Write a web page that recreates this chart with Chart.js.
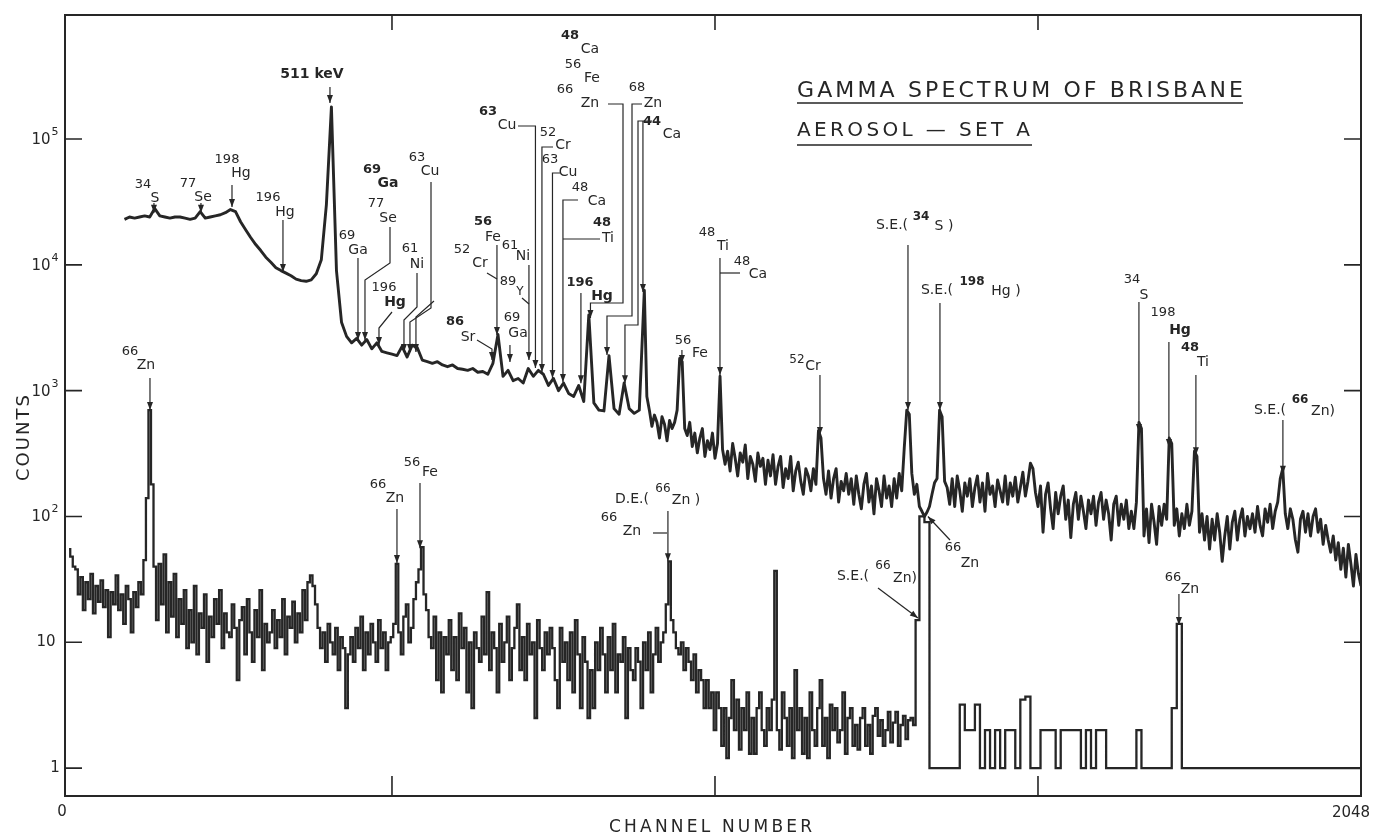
<!DOCTYPE html>
<html>
<head>
<meta charset="utf-8">
<script src="https://cdn.jsdelivr.net/npm/chart.js@4.4.6/dist/chart.umd.min.js"></script>
<style>
  html, body { margin: 0; background: #fff; }
  canvas { display: block; }
</style>
</head>
<body>
<canvas id="espectro" width="1374" height="835"></canvas>
<script>
// espectro superior: cada 8 canales del 88 al 912, luego cada 4
const pasoSupGrueso = 8;
const inicioSupGrueso = 88;
const cuentasSupGruesa = [
    23000, 24000, 23500, 24000, 24500, 24000, 28000, 24500,
    24000, 23500, 24000, 24000, 23500, 23000, 23500, 26500,
    23500, 24000, 24500, 25000, 26000, 27500, 26500, 22000,
    19000, 16500, 14500, 13000, 11500, 10500, 9500, 9000,
    8600, 8200, 7700, 7500, 7400, 7600, 8500, 11000,
    30000, 180000, 9000, 3500, 2700, 2400, 2600, 2300,
    2550, 2150, 2400, 2050, 2000, 1950, 1900, 2250,
    1850, 2300, 2200, 1750, 1700, 1650, 1700, 1600,
    1550, 1600, 1500, 1480, 1450, 1500, 1400, 1420,
    1350, 1650, 2800, 1300, 1450, 1200, 1250, 1150,
    1500, 1300, 1450, 1350, 1100, 1250, 1000, 1150,
    950, 900, 1100, 820, 4000, 800, 700, 690,
    1900, 720, 650, 1150, 720, 660, 700, 6300
];
const pasoSupFino = 4;
const inicioSupFino = 916;
const cuentasSupFina = [
    900, 700, 520, 640, 560, 420, 620, 540, 400, 580, 500, 560, 700, 1800, 1700, 500,
    440, 560, 360, 460, 320, 420, 500, 300, 400, 340, 460, 290, 380, 1300, 340, 260,
    330, 230, 380, 290, 210, 320, 270, 370, 200, 300, 260, 190, 320, 250, 290, 180,
    280, 210, 310, 180, 250, 300, 170, 240, 200, 300, 160, 230, 270, 190, 150, 240,
    210, 160, 240, 180, 480, 420, 200, 150, 230, 140, 200, 240, 130, 190, 160, 220,
    150, 200, 125, 210, 150, 115, 180, 220, 130, 175, 105, 200, 160, 120, 210, 140,
    175, 120, 200, 140, 220, 160, 350, 700, 650, 220, 150, 180, 120, 110, 100, 108,
    120, 150, 185, 200, 700, 620, 190, 170, 125, 200, 120, 210, 160, 110, 185, 145,
    200, 120, 170, 210, 130, 185, 110, 220, 150, 175, 120, 195, 160, 130, 210, 125,
    185, 145, 205, 130, 170, 225, 145, 190, 265, 240, 155, 120, 175, 75, 150, 185,
    115, 80, 155, 105, 145, 175, 95, 135, 68, 125, 155, 95, 145, 110, 80, 135,
    105, 145, 85, 130, 155, 95, 135, 105, 65, 125, 145, 85, 125, 95, 135, 80,
    110, 80, 130, 560, 500, 70, 115, 62, 125, 90, 60, 120, 85, 125, 95, 420,
    380, 85, 115, 70, 105, 80, 125, 85, 110, 330, 300, 75, 105, 65, 100, 55,
    95, 65, 105, 75, 44, 70, 100, 55, 90, 110, 65, 95, 115, 70, 100, 80,
    105, 75, 120, 85, 70, 115, 90, 125, 80, 110, 130, 200, 240, 105, 80, 115,
    95, 65, 52, 95, 110, 75, 105, 70, 100, 115, 75, 95, 60, 85, 65, 52,
    70, 45, 62, 38, 56, 33, 60, 42, 28, 50, 35, 28
];

// espectro inferior: cada 4 canales hasta el 1340, luego cada 8
const pasoInfFino = 4;
const inicioInfFino = 0;
const cuentasInfFina = [
    55, 48, 40, 38, 24, 33, 18, 30, 22, 35, 17, 28, 21, 31, 19, 26,
    11, 25, 20, 34, 18, 24, 14, 28, 22, 12, 25, 19, 30, 24, 45, 140,
    700, 180, 40, 15, 42, 20, 50, 12, 30, 16, 35, 11, 22, 14, 26, 9,
    18, 10, 28, 8, 17, 13, 24, 7, 16, 11, 22, 14, 26, 9, 17, 12,
    11, 20, 13, 5, 15, 19, 8, 22, 12, 7, 18, 11, 26, 6, 14, 10,
    12, 18, 9, 15, 11, 22, 8, 16, 13, 21, 10, 17, 12, 26, 15, 30,
    34, 28, 20, 13, 9, 12, 7, 14, 10, 8, 13, 6, 11, 9, 3, 8,
    11, 7, 13, 9, 16, 6, 12, 8, 14, 10, 7, 15, 9, 12, 6, 10,
    11, 14, 42, 12, 8, 16, 20, 10, 13, 22, 30, 38, 57, 24, 18, 11,
    9, 16, 5, 12, 4, 11, 8, 15, 6, 11, 5, 17, 9, 13, 4, 10,
    3, 12, 9, 7, 16, 8, 25, 6, 12, 9, 4, 14, 7, 10, 16, 5,
    9, 13, 20, 6, 11, 5, 14, 8, 10, 2.5, 15, 9, 6, 12, 8, 13,
    9, 5, 3, 13, 7, 10, 5, 12, 4, 15, 8, 3, 11, 7, 2.5, 6,
    3, 10, 6, 13, 8, 4, 11, 6, 14, 4, 8, 7, 11, 2.5, 9, 6,
    5, 9, 7, 3, 10, 6, 12, 4, 8, 13, 7, 10, 12, 20, 44, 15,
    12, 9, 8, 10, 6, 9, 7, 5, 8, 4, 6, 5, 3, 5, 3, 4,
    2, 4, 3, 1.5, 3, 1.2, 2.5, 5, 2, 3.5, 1.4, 3, 2, 4, 1.3, 2.5,
    1.3, 3, 4, 2, 1.5, 3, 2, 3.5, 37, 2, 1.4, 4, 2.5, 1.5, 3, 1.2,
    6, 2, 3, 1.3, 2.5, 1.2, 4, 2, 1.5, 3, 5, 1.5, 2.5, 1.2, 3.2, 2,
    3, 1.6, 2, 4, 1.3, 2.5, 3, 1.5, 2.2, 1.4, 2.5, 3, 1.5, 2.2, 1.3, 2.6,
    3, 1.8, 2.4, 1.5, 2, 2.8, 1.6, 2.3, 2.8, 1.5, 2.2, 2.6, 1.7, 2.4, 2.5, 2.2
];
const pasoInfCola = 8;
const inicioInfCola = 1344;
const cuentasInfCola = [
    15, 100, 90, 1, 1, 1, 1, 1,
    1, 3.2, 2, 2, 3.2, 1, 2, 1,
    2, 1, 2, 2, 1, 3.5, 3.7, 1,
    1, 2, 2, 2, 1, 2, 2, 2,
    2, 1, 2, 1, 2, 2, 1, 1,
    1, 1, 1, 1, 2, 1, 1, 1,
    1, 1, 1, 3, 14, 1, 1, 1,
    1, 1, 1, 1, 1, 1, 1, 1,
    1, 1, 1, 1, 1, 1, 1, 1,
    1, 1, 1, 1, 1, 1, 1, 1,
    1, 1, 1, 1, 1, 1, 1, 1,
    1
];

const ticksY = [1, 10, 100, 1000, 10000, 100000];
const ticksX = [0, 512, 1024, 1536, 2048];

// flechas: [canal, cuentas en la punta, recorrido en px (x null = misma x que la punta)]
const flechas = [
    [134.7, 26000, [[null, 203]]],
    [209.2, 26000, [[null, 203]]],
    [258.4, 28800, [[null, 185]]],
    [339.2, 8770, [[null, 220]]],
    [413.7, 193000, [[null, 87]]],
    [458.1, 2525, [[null, 258]]],
    [469.2, 2525, [[390, 227], [390, 263], [null, 280]]],
    [491.4, 2305, [[392, 312], [null, 328]]],
    [531, 2027, [[417, 273], [417, 307], [null, 320]]],
    [540.5, 2027, [[431, 182], [431, 308], [null, 322]]],
    [550, 2027, [[434, 301], [null, 317]]],
    [670.5, 1751, [[477, 340], [null, 349]]],
    [678.4, 2767, [[null, 245]]],
    [699, 1688, [[null, 345]]],
    [729.1, 1751, [[null, 265]]],
    [739.4, 1512, [[518, 126], [null, 126]]],
    [749.7, 1405, [[553, 147], [null, 147]]],
    [766.4, 1260, [[560, 173], [null, 173]]],
    [783, 1171, [[578, 200], [null, 200]]],
    [811.5, 1143, [[null, 293]]],
    [826.6, 3777, [[608, 104], [623, 104], [623, 303], [null, 303]]],
    [852.8, 1919, [[642, 104], [632, 104], [632, 316], [null, 316]]],
    [881.3, 1143, [[652, 121], [638, 121], [638, 325], [null, 325]]],
    [909.8, 6078, [[null, 121]]],
    [971.6, 1657, [[null, 350]]],
    [1031.9, 1330, [[null, 258]]],
    [1190.4, 444, [[null, 375]]],
    [1329.9, 701, [[null, 245]]],
    [1380.6, 701, [[null, 303]]],
    [1696, 469, [[null, 302]]],
    [1743.5, 356, [[null, 342]]],
    [1786.3, 306, [[null, 375]]],
    [1924.2, 219, [[null, 420]]],
    [128.4, 701, [[null, 378]]],
    [519.9, 42.6, [[null, 509]]],
    [556.4, 56, [[null, 483]]],
    [949.4, 44, [[null, 511]]],
    [1345.7, 15.6, [[878, 588]]],
    [1361.5, 100, [[950, 540]]],
    [1759.4, 13.7, [[null, 594]]]
];

const guias = [
    [[487, 273], [497, 279]],
    [[522, 298], [529, 304]],
    [[600, 239], [563, 239]],
    [[740, 273], [720, 273]],
    [[653, 533], [667, 533]]
];

// rótulos: [texto, x, y, tamaño, negrita]
const rotulos = [
    ['34', 143, 185, 13], ['S', 155, 198, 14], ['77', 188, 184, 13], ['Se', 203, 197, 14],
    ['198', 227, 160, 13], ['Hg', 241, 173, 14], ['196', 268, 198, 13], ['Hg', 285, 212, 14],
    ['511 keV', 312, 74, 14, 1], ['69', 347, 236, 13], ['Ga', 358, 250, 14],
    ['69', 372, 170, 13, 1], ['Ga', 388, 183, 14, 1], ['77', 376, 204, 13], ['Se', 388, 218, 14],
    ['196', 384, 288, 13], ['Hg', 395, 302, 14, 1], ['61', 410, 249, 13], ['Ni', 417, 264, 14],
    ['63', 417, 158, 13], ['Cu', 430, 171, 14],
    ['86', 455, 322, 13, 1], ['Sr', 468, 337, 14], ['52', 462, 250, 13], ['Cr', 480, 263, 14],
    ['56', 483, 222, 13, 1], ['Fe', 493, 237, 14], ['61', 510, 246, 13], ['Ni', 523, 256, 14],
    ['89', 508, 282, 13], ['Y', 520, 292, 12], ['69', 512, 318, 13], ['Ga', 518, 333, 14],
    ['63', 488, 112, 13, 1], ['Cu', 507, 125, 14], ['52', 548, 133, 13], ['Cr', 563, 145, 14],
    ['63', 550, 160, 13], ['Cu', 568, 172, 14], ['48', 580, 188, 13], ['Ca', 597, 201, 14],
    ['48', 602, 223, 13, 1], ['Ti', 608, 238, 14], ['196', 580, 283, 13, 1], ['Hg', 602, 296, 14, 1],
    ['48', 570, 36, 13, 1], ['Ca', 590, 49, 14], ['56', 573, 65, 13], ['Fe', 592, 78, 14],
    ['66', 565, 90, 13], ['Zn', 590, 103, 14], ['68', 637, 88, 13], ['Zn', 653, 103, 14],
    ['44', 652, 122, 13, 1], ['Ca', 672, 134, 14], ['48', 707, 233, 13], ['Ti', 723, 246, 14],
    ['48', 742, 262, 13], ['Ca', 758, 274, 14], ['56', 683, 341, 13], ['Fe', 700, 353, 14],
    ['52', 797, 360, 12], ['Cr', 813, 366, 14],
    ['S.E.(', 892, 225, 14], ['34', 921, 217, 12, 1], ['S )', 944, 226, 14],
    ['S.E.(', 937, 290, 14], ['198', 972, 282, 12, 1], ['Hg )', 1006, 291, 14],
    ['34', 1132, 280, 13], ['S', 1144, 295, 14], ['198', 1163, 313, 13], ['Hg', 1180, 330, 14, 1],
    ['48', 1190, 348, 13, 1], ['Ti', 1203, 362, 14],
    ['S.E.(', 1270, 410, 14], ['66', 1300, 400, 12, 1], ['Zn)', 1323, 411, 14],
    ['66', 130, 352, 13], ['Zn', 146, 365, 14], ['66', 378, 485, 13], ['Zn', 395, 498, 14],
    ['56', 412, 463, 13], ['Fe', 430, 472, 14],
    ['D.E.(', 632, 499, 14], ['66', 663, 489, 12], ['Zn )', 686, 500, 14],
    ['66', 609, 518, 13], ['Zn', 632, 531, 14],
    ['S.E.(', 853, 576, 14], ['66', 883, 566, 12], ['Zn)', 905, 578, 14],
    ['66', 953, 548, 13], ['Zn', 970, 563, 14], ['66', 1173, 578, 13], ['Zn', 1190, 589, 14]
];

const tinta = '#262626';
const fuente = '"DejaVu Sans", "Liberation Sans", sans-serif';

function texto(ctx, t, x, y, tam, negrita) {
    ctx.font = (negrita ? 'bold ' : '') + tam + 'px ' + fuente;
    ctx.fillText(t, x, y);
}

function espaciado(ctx, t, x, y, ancho) {
    ctx.letterSpacing = '0px';
    const w = ctx.measureText(t).width;
    ctx.letterSpacing = ((ancho - w) / (t.length - 1)) + 'px';
    ctx.textAlign = 'left';
    ctx.fillText(t, x, y);
    ctx.letterSpacing = '0px';
}

function punta(ctx, x1, y1, x2, y2) {
    const a = Math.atan2(y2 - y1, x2 - x1);
    const c = Math.cos(a), s = Math.sin(a);
    ctx.beginPath();
    ctx.moveTo(x2, y2);
    ctx.lineTo(x2 - 8 * c + 3 * s, y2 - 8 * s - 3 * c);
    ctx.lineTo(x2 - 8 * c - 3 * s, y2 - 8 * s + 3 * c);
    ctx.closePath();
    ctx.fill();
}

const marco = {
    id: 'marco',
    afterDraw(chart) {
        const ctx = chart.ctx;
        const { left, right, top, bottom } = chart.chartArea;
        const sx = chart.scales.x, sy = chart.scales.y;
        ctx.save();
        ctx.strokeStyle = tinta;
        ctx.fillStyle = tinta;

        ctx.lineWidth = 2;
        ctx.strokeRect(left, top, right - left, bottom - top);

        ctx.lineWidth = 1.6;
        ctx.beginPath();
        ticksY.forEach(v => {
            const y = sy.getPixelForValue(v);
            ctx.moveTo(left, y); ctx.lineTo(left + 17, y);
            ctx.moveTo(right, y); ctx.lineTo(right - 17, y);
        });
        ticksX.slice(1, -1).forEach(v => {
            const x = sx.getPixelForValue(v);
            ctx.moveTo(x, bottom); ctx.lineTo(x, bottom - 20);
            ctx.moveTo(x, top); ctx.lineTo(x, top + 15);
        });
        ctx.stroke();

        ctx.textAlign = 'center';
        ctx.textBaseline = 'middle';
        ticksY.forEach(v => {
            const y = sy.getPixelForValue(v);
            const e = Math.round(Math.log10(v));
            if (e === 0) texto(ctx, '1', 55, y, 15);
            else if (e === 1) texto(ctx, '10', 46, y, 15);
            else { texto(ctx, '10', 41, y + 1, 15); texto(ctx, String(e), 55, y - 7, 11); }
        });
        texto(ctx, '0', 62, 812, 15);
        texto(ctx, '2048', 1351, 813, 15);

        // títulos
        ctx.textBaseline = 'alphabetic';
        ctx.font = '17px ' + fuente;
        espaciado(ctx, 'CHANNEL NUMBER', 609, 832, 203);
        ctx.save();
        ctx.translate(29, 438);
        ctx.rotate(-Math.PI / 2);
        ctx.font = '18px ' + fuente;
        espaciado(ctx, 'COUNTS', -43, 0, 86);
        ctx.restore();

        ctx.font = '22px ' + fuente;
        espaciado(ctx, 'GAMMA SPECTRUM OF BRISBANE', 797, 97, 446);
        ctx.font = '20px ' + fuente;
        espaciado(ctx, 'AEROSOL \u2014 SET A', 797, 136, 233);
        ctx.lineWidth = 1.6;
        ctx.beginPath();
        ctx.moveTo(797, 103); ctx.lineTo(1243, 103);
        ctx.moveTo(797, 145); ctx.lineTo(1032, 145);
        ctx.stroke();

        // anotaciones
        ctx.lineWidth = 1.2;
        flechas.forEach(([ch, v, camino]) => {
            const tx = sx.getPixelForValue(ch), ty = sy.getPixelForValue(v);
            const pts = camino.map(p => [p[0] === null ? tx : p[0], p[1]]).concat([[tx, ty]]);
            ctx.beginPath();
            ctx.moveTo(pts[0][0], pts[0][1]);
            pts.slice(1).forEach(p => ctx.lineTo(p[0], p[1]));
            ctx.stroke();
            const a = pts[pts.length - 2], b = pts[pts.length - 1];
            punta(ctx, a[0], a[1], b[0], b[1]);
        });
        guias.forEach(g => {
            ctx.beginPath();
            ctx.moveTo(g[0][0], g[0][1]);
            ctx.lineTo(g[1][0], g[1][1]);
            ctx.stroke();
        });

        ctx.textAlign = 'center';
        ctx.textBaseline = 'middle';
        rotulos.forEach(r => texto(ctx, r[0], r[1], r[2], r[3], r[4]));
        ctx.restore();
    }
};

const serieSuperior = cuentasSupGruesa.map((c, i) => ({ x: inicioSupGrueso + i * pasoSupGrueso, y: c }))
    .concat(cuentasSupFina.map((c, i) => ({ x: inicioSupFino + i * pasoSupFino, y: c })));
const serieInferior = cuentasInfFina.map((c, i) => ({ x: inicioInfFino + i * pasoInfFino, y: c }))
    .concat(cuentasInfCola.map((c, i) => ({ x: inicioInfCola + i * pasoInfCola, y: c })));

const ctx = document.getElementById('espectro').getContext('2d');
new Chart(ctx, {
    type: 'line',
    data: {
        datasets: [
            { label: 'Set A', data: serieSuperior, borderColor: tinta, borderWidth: 2.9, pointRadius: 0, fill: false, tension: 0, borderJoinStyle: 'round' },
            { label: 'Fondo', data: serieInferior, borderColor: tinta, borderWidth: 2.3, pointRadius: 0, fill: false, stepped: 'middle', borderJoinStyle: 'miter' }
        ]
    },
    options: {
        responsive: false,
        animation: false,
        devicePixelRatio: 1,
        events: [],
        layout: { padding: { left: 65, right: 13, top: 15, bottom: 39 } },
        plugins: { legend: { display: false }, tooltip: { enabled: false } },
        scales: {
            x: { type: 'linear', min: -6.3, max: 2048, display: false },
            y: { type: 'logarithmic', min: 0.6, max: 968000, display: false }
        }
    },
    plugins: [marco]
});
</script>
</body>
</html>
